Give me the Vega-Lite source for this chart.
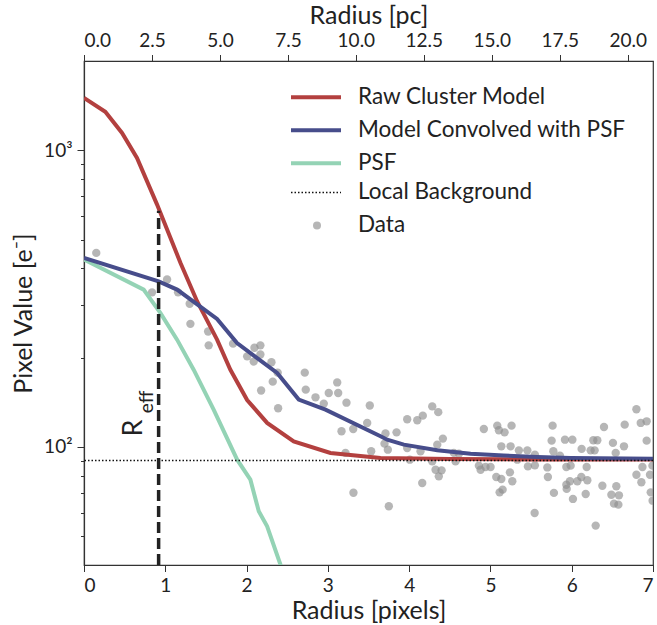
{
  "$schema": "https://vega.github.io/schema/vega-lite/v6.json",
  "width": 569,
  "height": 504,
  "autosize": {"type": "none"},
  "padding": {"left": 84, "top": 61, "right": 4, "bottom": 60},
  "background": "white",
  "config": {
    "font": "Lato",
    "view": {"stroke": "#333333", "strokeWidth": 1.2},
    "axis": {
      "domainColor": "#333333", "domainWidth": 1.2, "tickColor": "#333333", "tickWidth": 1,
      "labelColor": "#222222", "titleColor": "#222222", "labelFont": "Lato", "titleFont": "Lato",
      "labelFontSize": 19, "titleFontSize": 25, "titleFontWeight": "normal", "grid": false, "tickSize": 6.5, "labelPadding": 5
    },
    "legend": {
      "labelFont": "Lato", "labelFontSize": 22.5, "labelColor": "#222222", "padding": 0, "labelLimit": 400
    }
  },
  "datasets": {
    "curves": [
      {"series": "Raw Cluster Model", "r": 0, "v": 1502},
      {"series": "Raw Cluster Model", "r": 0.262, "v": 1348},
      {"series": "Raw Cluster Model", "r": 0.468, "v": 1144},
      {"series": "Raw Cluster Model", "r": 0.652, "v": 943},
      {"series": "Raw Cluster Model", "r": 0.899, "v": 656},
      {"series": "Raw Cluster Model", "r": 1.186, "v": 418},
      {"series": "Raw Cluster Model", "r": 1.391, "v": 310},
      {"series": "Raw Cluster Model", "r": 1.637, "v": 230},
      {"series": "Raw Cluster Model", "r": 1.801, "v": 182},
      {"series": "Raw Cluster Model", "r": 2.007, "v": 144},
      {"series": "Raw Cluster Model", "r": 2.253, "v": 120.5},
      {"series": "Raw Cluster Model", "r": 2.58, "v": 104.4},
      {"series": "Raw Cluster Model", "r": 3.032, "v": 95.4},
      {"series": "Raw Cluster Model", "r": 3.648, "v": 91.8},
      {"series": "Raw Cluster Model", "r": 4.5, "v": 91.0},
      {"series": "Raw Cluster Model", "r": 5.5, "v": 90.8},
      {"series": "Raw Cluster Model", "r": 7, "v": 90.7},
      {"series": "Model Convolved with PSF", "r": 0, "v": 433.8},
      {"series": "Model Convolved with PSF", "r": 0.918, "v": 361.6},
      {"series": "Model Convolved with PSF", "r": 1.145, "v": 339.2},
      {"series": "Model Convolved with PSF", "r": 1.637, "v": 270.2},
      {"series": "Model Convolved with PSF", "r": 1.883, "v": 224.1},
      {"series": "Model Convolved with PSF", "r": 2.376, "v": 177.6},
      {"series": "Model Convolved with PSF", "r": 2.642, "v": 144.4},
      {"series": "Model Convolved with PSF", "r": 2.971, "v": 133.6},
      {"series": "Model Convolved with PSF", "r": 3.648, "v": 108.6},
      {"series": "Model Convolved with PSF", "r": 3.73, "v": 105.8},
      {"series": "Model Convolved with PSF", "r": 3.935, "v": 101.8},
      {"series": "Model Convolved with PSF", "r": 4.346, "v": 97.4},
      {"series": "Model Convolved with PSF", "r": 4.756, "v": 94.9},
      {"series": "Model Convolved with PSF", "r": 5.162, "v": 93.5},
      {"series": "Model Convolved with PSF", "r": 5.577, "v": 92.5},
      {"series": "Model Convolved with PSF", "r": 5.987, "v": 91.8},
      {"series": "Model Convolved with PSF", "r": 7, "v": 91.3},
      {"series": "PSF", "r": 0, "v": 428.1},
      {"series": "PSF", "r": 0.734, "v": 339.2},
      {"series": "PSF", "r": 0.939, "v": 283.0},
      {"series": "PSF", "r": 1.145, "v": 230.0},
      {"series": "PSF", "r": 1.349, "v": 182.2},
      {"series": "PSF", "r": 1.595, "v": 133.6},
      {"series": "PSF", "r": 1.884, "v": 90.6},
      {"series": "PSF", "r": 2.047, "v": 77.6},
      {"series": "PSF", "r": 2.15, "v": 60.7},
      {"series": "PSF", "r": 2.253, "v": 54.0},
      {"series": "PSF", "r": 2.417, "v": 40.1},
      {"series": "PSF", "r": 2.515, "v": 33}
    ],
    "background": [{"series": "Local Background", "v": 90.1}],
    "reff": [{"r": 0.918, "lo": 40, "hi": 625}],
    "points": [
      {"r": 0.151, "v": 451}, {"r": 0.837, "v": 332}, {"r": 1.022, "v": 367}, {"r": 1.157, "v": 332},
      {"r": 1.3, "v": 304}, {"r": 1.309, "v": 260}, {"r": 1.527, "v": 245}, {"r": 1.534, "v": 220},
      {"r": 1.834, "v": 223}, {"r": 2.007, "v": 202}, {"r": 2.088, "v": 194}, {"r": 2.097, "v": 216},
      {"r": 2.17, "v": 220}, {"r": 2.17, "v": 205}, {"r": 2.306, "v": 193}, {"r": 2.383, "v": 178},
      {"r": 2.322, "v": 166}, {"r": 2.179, "v": 155}, {"r": 2.388, "v": 135}, {"r": 2.716, "v": 178},
      {"r": 2.728, "v": 156}, {"r": 2.848, "v": 147}, {"r": 2.95, "v": 140}, {"r": 3.011, "v": 152},
      {"r": 3.115, "v": 165}, {"r": 3.127, "v": 152}, {"r": 3.229, "v": 141}, {"r": 3.168, "v": 113},
      {"r": 3.312, "v": 115}, {"r": 3.484, "v": 120.5}, {"r": 3.516, "v": 138}, {"r": 3.533, "v": 96.7},
      {"r": 3.217, "v": 95.5}, {"r": 3.315, "v": 70.1}, {"r": 3.709, "v": 111}, {"r": 3.697, "v": 102.6},
      {"r": 3.738, "v": 97.9}, {"r": 3.75, "v": 63.1}, {"r": 3.845, "v": 112}, {"r": 3.976, "v": 124},
      {"r": 4.1, "v": 123}, {"r": 4.168, "v": 127.5}, {"r": 4.284, "v": 137}, {"r": 4.358, "v": 131},
      {"r": 3.976, "v": 99.2}, {"r": 4.008, "v": 90.6}, {"r": 4.14, "v": 96.7}, {"r": 4.161, "v": 75.6},
      {"r": 4.284, "v": 89.4}, {"r": 4.325, "v": 83.8}, {"r": 4.346, "v": 101.8}, {"r": 4.399, "v": 83.4},
      {"r": 4.365, "v": 79.6}, {"r": 4.415, "v": 106.7}, {"r": 4.55, "v": 95.5}, {"r": 4.571, "v": 89.4},
      {"r": 4.612, "v": 94.9}, {"r": 4.858, "v": 86.5}, {"r": 4.879, "v": 83.8}, {"r": 4.919, "v": 115},
      {"r": 4.94, "v": 85.6}, {"r": 5.002, "v": 85.6}, {"r": 5.072, "v": 79.2}, {"r": 5.134, "v": 78.0},
      {"r": 5.084, "v": 118}, {"r": 5.104, "v": 113.8}, {"r": 5.174, "v": 112}, {"r": 5.26, "v": 118},
      {"r": 5.134, "v": 100.5}, {"r": 5.248, "v": 100.5}, {"r": 5.24, "v": 82.1}, {"r": 5.269, "v": 76.6},
      {"r": 5.15, "v": 71.8}, {"r": 5.113, "v": 70.3}, {"r": 5.331, "v": 90.6}, {"r": 5.35, "v": 97.4},
      {"r": 5.454, "v": 97.4}, {"r": 5.547, "v": 94.2}, {"r": 5.547, "v": 86.7}, {"r": 5.461, "v": 86.0},
      {"r": 5.544, "v": 59.9}, {"r": 5.7, "v": 85.3}, {"r": 5.707, "v": 79.2}, {"r": 5.753, "v": 105},
      {"r": 5.765, "v": 118}, {"r": 5.774, "v": 96.7}, {"r": 5.781, "v": 70.0}, {"r": 5.855, "v": 93.5},
      {"r": 5.917, "v": 105.8}, {"r": 5.934, "v": 85.6}, {"r": 5.934, "v": 74.6}, {"r": 5.938, "v": 72.2},
      {"r": 5.987, "v": 86.5}, {"r": 6.008, "v": 105.8}, {"r": 5.978, "v": 76.6}, {"r": 6.015, "v": 66.8},
      {"r": 6.069, "v": 76.6}, {"r": 6.118, "v": 79.2}, {"r": 6.122, "v": 98.5}, {"r": 6.172, "v": 69.4},
      {"r": 6.184, "v": 85.6}, {"r": 6.192, "v": 77.2}, {"r": 6.233, "v": 97.4}, {"r": 6.266, "v": 105.3},
      {"r": 6.282, "v": 97.4}, {"r": 6.315, "v": 105.3}, {"r": 6.295, "v": 54.3}, {"r": 6.377, "v": 74.0},
      {"r": 6.397, "v": 116.8}, {"r": 6.488, "v": 69.0}, {"r": 6.507, "v": 103.2}, {"r": 6.52, "v": 64.4},
      {"r": 6.541, "v": 95.5}, {"r": 6.549, "v": 73.7}, {"r": 6.574, "v": 63.9}, {"r": 6.581, "v": 68.7},
      {"r": 6.643, "v": 100.5}, {"r": 6.652, "v": 118.9}, {"r": 6.796, "v": 134}, {"r": 6.796, "v": 80.6},
      {"r": 6.849, "v": 120.5}, {"r": 6.857, "v": 76.0}, {"r": 6.87, "v": 85.6}, {"r": 6.922, "v": 122},
      {"r": 6.922, "v": 105}, {"r": 6.963, "v": 80.6}, {"r": 6.972, "v": 70.3}, {"r": 6.993, "v": 86.5},
      {"r": 6.995, "v": 65.9}
    ],
    "pcaxis": [{"pc": 0}, {"pc": 20.93}],
    "labels": [
      {"r": 0.716, "v": 108.5, "t": "R", "part": "main"},
      {"r": 0.851, "v": 130, "t": "eff", "part": "sub"}
    ]
  },
  "layer": [
    {
      "layer": [
        {
          "data": {"name": "points"},
          "transform": [{"calculate": "'Data'", "as": "kind"}],
          "mark": {"type": "point", "filled": true, "size": 70, "opacity": 0.65, "color": "#8f8f8f", "clip": true},
          "encoding": {
            "x": {"field": "r", "type": "quantitative", "scale": {"domain": [0, 7], "nice": false, "zero": false},
              "axis": {"title": "Radius [pixels]", "values": [0, 1, 2, 3, 4, 5, 6, 7], "format": "d", "titlePadding": 3}},
            "y": {"field": "v", "type": "quantitative", "scale": {"type": "log", "domain": [40, 2000], "nice": false},
              "axis": {"title": "Pixel Value [e⁻]", "titlePadding": 7,
                "values": [50, 60, 70, 80, 90, 100, 200, 300, 400, 500, 600, 700, 800, 900, 1000],
                "labelExpr": "datum.value == 100 ? '10²' : datum.value == 1000 ? '10³' : ''",
                "tickSize": {"condition": {"test": "datum.value == 100 || datum.value == 1000", "value": 7}, "value": 3.5}}},
            "shape": {"field": "kind", "type": "nominal", "scale": {"domain": ["Data"], "range": ["circle"]},
              "legend": {"title": null, "orient": "none", "legendX": 221.75, "legendY": 153.2, "symbolSize": 64, "labelOffset": 29.75, "symbolStrokeWidth": 0}}
          }
        },
        {
          "data": {"name": "curves"},
          "transform": [{"filter": "datum.series === 'Raw Cluster Model'"}],
          "mark": {"type": "line", "clip": true, "strokeWidth": 4},
          "encoding": {
            "x": {"field": "r", "type": "quantitative"},
            "y": {"field": "v", "type": "quantitative"},
            "color": {"field": "series", "type": "nominal",
              "scale": {"domain": ["Raw Cluster Model", "Model Convolved with PSF", "PSF"],
                "range": ["#b3403f", "#474d8b", "#94d3b5"]},
              "legend": {"title": null, "orient": "none", "legendX": 220, "legendY": 24.2, "symbolType": "M-2.5,0H2.5", "symbolSize": 400, "symbolStrokeWidth": 4, "labelOffset": 30, "rowPadding": 9}}
          }
        },
        {
          "data": {"name": "curves"},
          "transform": [{"filter": "datum.series === 'PSF'"}],
          "mark": {"type": "line", "clip": true, "strokeWidth": 4},
          "encoding": {
            "x": {"field": "r", "type": "quantitative"},
            "y": {"field": "v", "type": "quantitative"},
            "color": {"field": "series", "type": "nominal"}
          }
        },
        {
          "data": {"name": "curves"},
          "transform": [{"filter": "datum.series === 'Model Convolved with PSF'"}],
          "mark": {"type": "line", "clip": true, "strokeWidth": 4},
          "encoding": {
            "x": {"field": "r", "type": "quantitative"},
            "y": {"field": "v", "type": "quantitative"},
            "color": {"field": "series", "type": "nominal"}
          }
        },
        {
          "data": {"name": "background"},
          "mark": {"type": "rule", "color": "#111111", "strokeWidth": 1.5},
          "encoding": {
            "y": {"field": "v", "type": "quantitative"},
            "strokeDash": {"field": "series", "type": "nominal",
              "scale": {"domain": ["Local Background"], "range": [[1.5, 2]]},
              "legend": {"title": null, "orient": "none", "legendX": 220.75, "legendY": 120.2, "symbolType": "M-2.5,0H2.5", "symbolSize": 400, "symbolStrokeWidth": 1.5, "labelOffset": 30.75}}
          }
        },
        {
          "data": {"name": "reff"},
          "mark": {"type": "rule", "strokeWidth": 3.5, "strokeDash": [11, 5], "color": "#222222"},
          "encoding": {
            "x": {"field": "r", "type": "quantitative"},
            "y": {"field": "lo", "type": "quantitative"},
            "y2": {"field": "hi"}
          }
        },
        {
          "data": {"name": "labels"},
          "transform": [{"filter": "datum.part === 'main'"}],
          "mark": {"type": "text", "angle": 270, "align": "left", "baseline": "alphabetic", "fontSize": 27, "color": "#222222", "font": "Lato"},
          "encoding": {
            "x": {"field": "r", "type": "quantitative"},
            "y": {"field": "v", "type": "quantitative"},
            "text": {"field": "t"}
          }
        },
        {
          "data": {"name": "labels"},
          "transform": [{"filter": "datum.part === 'sub'"}],
          "mark": {"type": "text", "angle": 270, "align": "left", "baseline": "alphabetic", "fontSize": 19, "color": "#222222", "font": "Lato"},
          "encoding": {
            "x": {"field": "r", "type": "quantitative"},
            "y": {"field": "v", "type": "quantitative"},
            "text": {"field": "t"}
          }
        }
      ]
    },
    {
      "data": {"name": "pcaxis"},
      "mark": {"type": "rule", "opacity": 0},
      "encoding": {
        "x": {"field": "pc", "type": "quantitative", "scale": {"domain": [0, 20.93], "nice": false, "zero": false},
          "axis": {"orient": "top", "title": "Radius [pc]", "values": [0, 2.5, 5, 7.5, 10, 12.5, 15, 17.5, 20], "format": ".1f", "labelPadding": 4, "titlePadding": 3}}
      }
    }
  ],
  "resolve": {"scale": {"x": "independent"}, "axis": {"x": "independent"}}
}
